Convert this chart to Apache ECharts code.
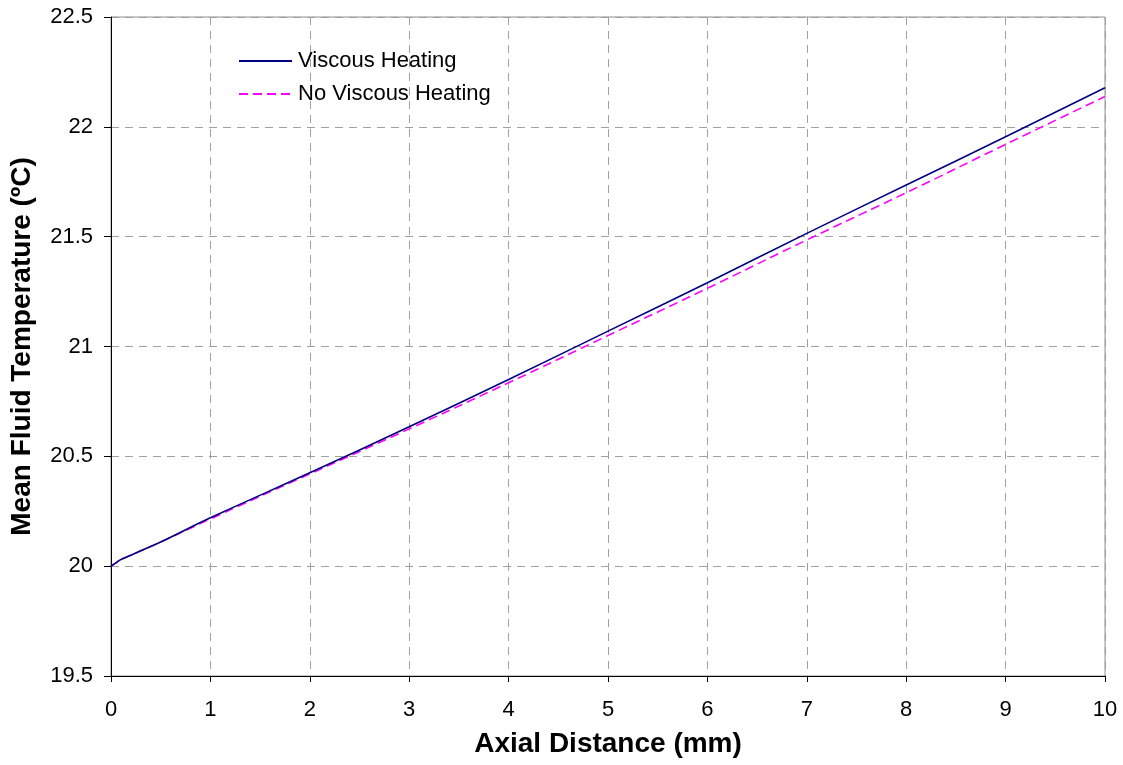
<!DOCTYPE html>
<html>
<head>
<meta charset="utf-8">
<script src="https://cdn.jsdelivr.net/npm/echarts@6/dist/echarts.min.js"></script>
<style>
  html, body { margin: 0; padding: 0; background: #fff; }
  #chart { width: 1123px; height: 765px; }
</style>
</head>
<body>
<div id="chart"></div>
<script>
// axial distance (mm)
var distance = [0, 0.05, 0.1, 0.2, 0.3, 0.5, 1, 2, 3, 4, 5, 6, 7, 8, 9, 10];
// mean fluid temperature (°C)
var viscous = [20.0, 20.015, 20.03, 20.05, 20.07, 20.11, 20.22, 20.425, 20.635, 20.85, 21.07, 21.29, 21.515, 21.735, 21.955, 22.178];
var noViscous = [20.0, 20.015, 20.03, 20.05, 20.07, 20.11, 20.215, 20.42, 20.625, 20.835, 21.05, 21.265, 21.485, 21.70, 21.92, 22.138];

function pairs(xs, ys) {
  return xs.map(function (x, i) { return [x, ys[i]]; });
}

var chart = echarts.init(document.getElementById("chart"));
var gridLine = { show: true, lineStyle: { color: "#a0a0a0", width: 1, type: [8, 6] } };
chart.setOption({
  animation: false,
  grid: {
    left: 110, right: 18, top: 17, bottom: 89,
    show: true, borderColor: "#909090", borderWidth: 1
  },
  legend: {
    orient: "vertical",
    left: 238,
    top: 50,
    padding: 0,
    itemWidth: 53,
    itemHeight: 14,
    itemGap: 11,
    itemStyle: { opacity: 0 },
    textStyle: { fontFamily: "Liberation Sans", fontSize: 22, lineHeight: 22, color: "#000", padding: [0, 0, 0, 1] },
    data: ["Viscous Heating", "No Viscous Heating"]
  },
  xAxis: {
    type: "value",
    min: 0,
    max: 10,
    interval: 1,
    name: "Axial Distance (mm)",
    nameLocation: "middle",
    nameGap: 54,
    nameTextStyle: { fontFamily: "Liberation Sans", fontSize: 28, fontWeight: "bold", color: "#000" },
    axisLine: { show: true, lineStyle: { color: "#000", width: 1 } },
    axisTick: { show: true, length: 6, lineStyle: { color: "#000" } },
    axisLabel: { fontFamily: "Liberation Sans", fontSize: 22, color: "#000", margin: 23 },
    splitLine: gridLine
  },
  yAxis: {
    type: "value",
    min: 19.5,
    max: 22.5,
    interval: 0.5,
    name: "Mean Fluid Temperature (ºC)",
    nameLocation: "middle",
    nameGap: 75,
    nameTextStyle: { fontFamily: "Liberation Sans", fontSize: 28, fontWeight: "bold", color: "#000" },
    axisLine: { show: true, lineStyle: { color: "#000", width: 1 } },
    axisTick: { show: true, length: 7, lineStyle: { color: "#000" } },
    axisLabel: { fontFamily: "Liberation Sans", fontSize: 22, color: "#000", margin: 18 },
    splitLine: gridLine
  },
  series: [
    {
      name: "Viscous Heating",
      type: "line",
      smooth: true,
      symbol: "none",
      data: pairs(distance, viscous),
      lineStyle: { color: "#000080", width: 1.6 },
      itemStyle: { color: "#000080" },
      z: 3
    },
    {
      name: "No Viscous Heating",
      type: "line",
      smooth: true,
      symbol: "none",
      data: pairs(distance, noViscous),
      lineStyle: { color: "#ff00ff", width: 1.6, type: [9, 5] },
      itemStyle: { color: "#ff00ff" },
      z: 2
    }
  ]
});
</script>
</body>
</html>
